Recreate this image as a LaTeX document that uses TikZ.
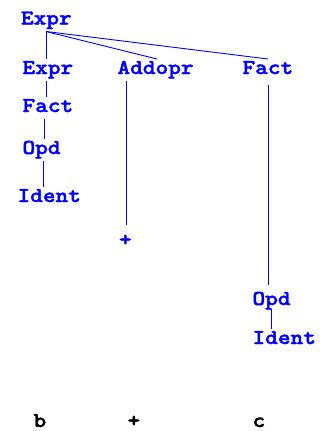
\documentclass[tikz,border=0pt]{standalone}
\usepackage{fontspec}
\usepackage{graphicx}
\newfontfamily\courf{lmmonolt10-bold.otf}[FakeBold=1.6]
\newcommand\courtxt[1]{\scalebox{1.14}[1]{#1}}
\begin{document}
\begin{tikzpicture}[x=1pt,y=1pt,
  lbl/.style={anchor=base west,inner sep=0pt,outer sep=3pt,text height=12pt,text depth=4pt,
    font=\courf\fontsize{21.2}{25}\selectfont},
  nt/.style={lbl,text=blue},
  leaf/.style={lbl,text=black},
  edge/.style={draw=blue,line width=0.9pt}]
\useasboundingbox (0,0) rectangle (320,-431);
\node[nt] (e1) at (18,-24.5) {\courtxt{Expr}};
\node[nt] (e2) at (19.5,-74) {\courtxt{Expr}};
\node[nt] (ad) at (114.5,-74) {\courtxt{Addopr}};
\node[nt] (fr) at (239.5,-74) {\courtxt{Fact}};
\node[nt] (fl) at (19.5,-112) {\courtxt{Fact}};
\node[nt] (ol) at (19.5,-154) {\courtxt{Opd}};
\node[nt] (il) at (14.5,-202) {\courtxt{Ident}};
\node[nt] (pb) at (116,-246) {\courtxt{+}};
\node[nt] (or) at (249.5,-305) {\courtxt{Opd}};
\node[nt] (ir) at (249.5,-344) {\courtxt{Ident}};
\node[leaf] (b) at (30.5,-427) {\courtxt{b}};
\node[leaf] (p) at (124.5,-427) {\courtxt{+}};
\node[leaf] (c) at (249.5,-427) {\courtxt{c}};
\draw[edge] ([xshift=28pt]e1.south west) -- ([xshift=26.5pt]e2.north west);
\draw[edge] ([xshift=28pt]e1.south west) -- ([xshift=42.5pt]ad.north west);
\draw[edge] ([xshift=28pt]e1.south west) -- ([xshift=28.5pt]fr.north west);
\draw[edge] ([xshift=26.5pt]e2.south west) -- ([xshift=26.5pt]fl.north west);
\draw[edge] ([xshift=25.2pt]fl.south west) -- ([xshift=25.2pt]ol.north west);
\draw[edge] ([xshift=24.2pt]ol.south west) -- ([xshift=29.2pt]il.north west);
\draw[edge] ([xshift=11.8pt]ad.south west) -- ([xshift=10.3pt,yshift=6pt]pb.north west);
\draw[edge] ([xshift=29.2pt,yshift=-4pt]fr.south west) -- ([xshift=19.2pt,yshift=5pt]or.north west);
\draw[edge] ([xshift=21.8pt,yshift=3pt]or.south west) -- ([xshift=21.8pt]ir.north west);
\end{tikzpicture}
\end{document}
